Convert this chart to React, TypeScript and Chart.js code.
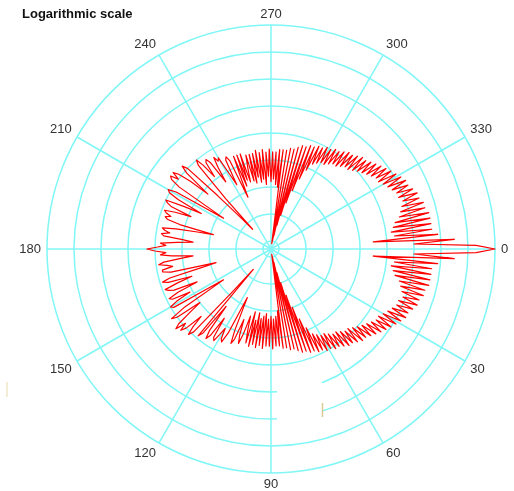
import React, { useEffect, useRef } from 'react';
import { Chart, registerables } from 'chart.js';

Chart.register(...registerables);

const TITLE = 'Logarithmic scale';
const ANGLE_TICKS = [0, 30, 60, 90, 120, 150, 180, 210, 240, 270, 300, 330];
const RING_DB = [-80, -70, -60, -50, -40, -30, -20, -10, 0];
const R_MIN = -83;
const R_MAX = 0;

// gain in dB, one value per degree (angle measured clockwise from the right)
const GAIN_0_89 = [
  0, -7, -30, -15, -45, -21, -37, -23, -38, -23,
  -37, -23, -36, -23, -34, -24, -33, -24, -32, -25,
  -31, -25, -32, -26, -32, -27, -33, -27, -34, -28,
  -35, -29, -36, -30, -36, -31, -37, -32, -38, -33,
  -39, -34, -40, -35, -41, -35, -42, -36, -42, -37,
  -43, -37, -44, -38, -44, -39, -45, -39, -46, -40,
  -46, -40, -47, -41, -48, -41, -51, -42, -55, -42,
  -60, -43, -65, -43, -70, -44, -74, -45, -78, -45,
  -80, -46, -81, -46, -60, -47, -58, -47, -57, -46,
];
const GAIN_90_179 = [
  -58, -47, -57, -47, -59, -46, -58, -47, -57, -46,
  -59, -47, -56, -46, -59, -47, -52, -57, -50, -46,
  -49, -55, -47, -45, -50, -58, -63, -48, -44, -45,
  -49, -46, -43, -44, -52, -44, -42, -45, -56, -43,
  -41, -73, -62, -41, -39, -42, -47, -40, -38, -41,
  -37, -39, -45, -50, -40, -38, -44, -62, -55, -41,
  -40, -43, -49, -42, -41, -45, -53, -44, -42, -41,
  -46, -52, -43, -41, -44, -56, -62, -45, -42, -42,
  -46, -44, -41, -43, -49, -54, -46, -42, -44, -40,
];
const GAIN_180_269 = [
  -37, -41, -44, -42, -48, -54, -50, -43, -42, -45,
  -43, -42, -47, -55, -61, -48, -43, -42, -44, -42,
  -41, -45, -51, -43, -41, -40, -47, -54, -44, -40,
  -39, -42, -55, -62, -42, -38, -37, -40, -37, -39,
  -44, -52, -41, -38, -40, -55, -67, -73, -58, -42,
  -40, -43, -49, -43, -42, -44, -53, -47, -43, -45,
  -44, -51, -56, -46, -45, -47, -62, -55, -46, -58,
  -46, -56, -46, -57, -52, -47, -57, -47, -58, -47,
  -56, -46, -58, -47, -57, -46, -59, -47, -56, -46,
];
const GAIN_270_359 = [
  -58, -47, -57, -47, -59, -46, -60, -46, -81, -46,
  -80, -45, -78, -45, -74, -44, -70, -43, -65, -43,
  -60, -42, -55, -42, -51, -41, -48, -41, -47, -40,
  -46, -40, -46, -39, -45, -39, -44, -38, -44, -37,
  -43, -37, -42, -36, -42, -35, -41, -35, -40, -34,
  -39, -33, -38, -32, -37, -31, -36, -30, -36, -29,
  -35, -28, -34, -27, -33, -27, -32, -26, -32, -25,
  -31, -25, -32, -24, -33, -24, -34, -23, -36, -23,
  -37, -23, -38, -23, -37, -21, -45, -15, -30, -7,
];

const GAIN_DB = [...GAIN_0_89, ...GAIN_90_179, ...GAIN_180_269, ...GAIN_270_359];
const ANGLE_LABELS = GAIN_DB.map((_, i) => String(i));

const GRID = '#80f6f6';
const LINE = '#ff0000';

const decorPlugin = {
  id: 'decor',
  afterDraw(chart: any) {
    const ctx = chart.ctx as CanvasRenderingContext2D;
    const r = chart.scales.r;
    ctx.save();
    // blank patch in the grid (as in the original picture)
    ctx.fillStyle = '#ffffff';
    ctx.fillRect(277, 372, 45, 58);
    // small stray marks
    ctx.strokeStyle = 'rgba(215,195,135,0.9)';
    ctx.lineWidth = 1.5;
    ctx.beginPath();
    ctx.moveTo(322.5, 403);
    ctx.lineTo(322.5, 417);
    ctx.stroke();
    ctx.strokeStyle = 'rgba(225,210,150,0.8)';
    ctx.lineWidth = 1;
    ctx.beginPath();
    ctx.moveTo(7, 382);
    ctx.lineTo(7, 397);
    ctx.stroke();

    // title
    ctx.font = 'bold 13px "Liberation Sans", Arial, sans-serif';
    ctx.fillStyle = '#111111';
    ctx.textAlign = 'left';
    ctx.textBaseline = 'alphabetic';
    ctx.fillText(TITLE, 22, 18);

    // angle labels
    ctx.font = '13px "Liberation Sans", Arial, sans-serif';
    ctx.fillStyle = '#333333';
    ctx.textAlign = 'center';
    ctx.textBaseline = 'middle';
    ANGLE_TICKS.forEach((a) => {
      const txt = String(a);
      const p = r.getPointPosition(a, r.drawingArea + 6);
      const c = Math.cos(p.angle);
      const s = Math.sin(p.angle);
      const w = ctx.measureText(txt).width;
      const x = p.x + (c > 0.1 ? w / 2 : c < -0.1 ? -w / 2 : 0);
      const y = p.y + (s > 0.1 ? 5.5 : s < -0.1 ? -5 : 0);
      ctx.fillText(txt, x, y);
    });
    ctx.restore();
  },
};

export default function App() {
  const canvasRef = useRef<HTMLCanvasElement | null>(null);

  useEffect(() => {
    const canvas = canvasRef.current;
    if (!canvas) return;
    const chart = new Chart(canvas, {
      type: 'radar',
      data: {
        labels: ANGLE_LABELS,
        datasets: [
          {
            data: GAIN_DB,
            borderColor: LINE,
            backgroundColor: 'transparent',
            borderWidth: 1.2,
            pointRadius: 0,
            pointHoverRadius: 0,
            fill: false,
            tension: 0,
            borderJoinStyle: 'round',
          } as any,
        ],
      },
      options: {
        responsive: false,
        animation: false,
        layout: { padding: { left: 47, right: 19, top: 25, bottom: 18 } },
        plugins: {
          legend: { display: false },
          tooltip: { enabled: false },
          title: { display: false },
        },
        scales: {
          r: {
            min: R_MIN,
            max: R_MAX,
            startAngle: 90,
            beginAtZero: false,
            grid: { circular: true, color: GRID, lineWidth: 1.5 },
            angleLines: {
              display: true,
              color: GRID,
              lineWidth: (ctx: any) => (ANGLE_TICKS.includes(ctx.index) ? 1.5 : 0),
            },
            pointLabels: { display: false },
            ticks: { display: false, stepSize: 10 },
            afterBuildTicks: (scale: any) => {
              scale.ticks = [R_MIN, ...RING_DB].map((v) => ({ value: v }));
            },
          } as any,
        },
      },
      plugins: [decorPlugin],
    });
    return () => chart.destroy();
  }, []);

  return (
    <div
      style={{
        position: 'fixed',
        left: 0,
        top: 0,
        width: 514,
        height: 491,
        background: '#ffffff',
      }}
    >
      <canvas ref={canvasRef} width={514} height={491} style={{ display: 'block' }} />
    </div>
  );
}
